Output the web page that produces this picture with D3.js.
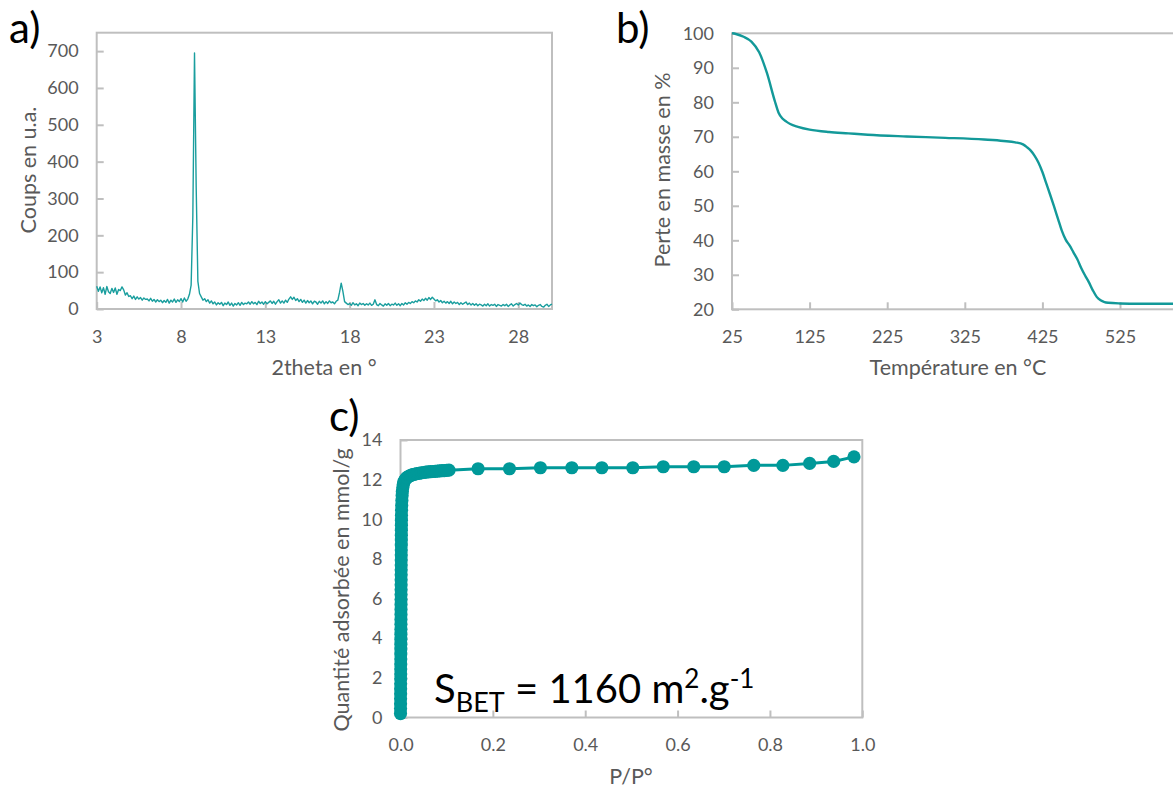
<!DOCTYPE html>
<html>
<head>
<meta charset="utf-8">
<script src="https://cdn.jsdelivr.net/npm/d3@7"></script>
<style>
  html, body { margin: 0; padding: 0; background: #fff; }
  svg { display: block; }
  text { font-family: Lato, "Open Sans", sans-serif; }
</style>
</head>
<body>
<svg id="chart" width="1173" height="792"></svg>
<script>
// ---------- DATA ----------
// a) XRD pattern: 2theta from 3 to 30 sampled every 0.1 degree
const xrdStart = 3;
const xrdStep = 0.1;
const xrdCounts = [
  62, 48, 60, 44, 58, 40, 61, 47, 42, 56,
  45, 57, 40, 53, 50, 60, 52, 38, 44, 34,
  36, 28, 35, 26, 33, 27, 31, 24, 30, 26,
  27, 22, 29, 21, 26, 19, 25, 20, 24, 17,
  23, 18, 26, 16, 24, 19, 27, 18, 25, 20,
  28, 19, 30, 21, 27, 40, 65, 250, 695, 330,
  75, 42, 33, 24, 28, 20, 25, 16, 22, 14,
  19, 11, 17, 13, 18, 9, 16, 12, 19, 10,
  16, 8, 15, 11, 17, 10, 18, 12, 16, 14,
  19, 13, 20, 14, 18, 12, 21, 15, 19, 13,
  20, 14, 18, 22, 15, 21, 13, 20, 25, 16,
  22, 16, 24, 18, 27, 33, 26, 32, 23, 28,
  20, 26, 18, 24, 16, 23, 17, 22, 14, 21,
  19, 13, 21, 16, 22, 14, 20, 15, 22, 17,
  19, 14, 21, 24, 45, 70, 48, 20, 16, 12,
  15, 10, 17, 11, 14, 9, 16, 12, 15, 10,
  14, 11, 16, 10, 13, 25, 12, 9, 15, 11,
  8, 14, 10, 15, 9, 13, 11, 16, 10, 14,
  9, 15, 11, 17, 13, 18, 15, 20, 17, 22,
  19, 25, 21, 27, 23, 29, 24, 31, 26, 32,
  27, 22, 25, 19, 23, 17, 21, 16, 20, 15,
  21, 14, 19, 15, 18, 12, 17, 13, 16, 19,
  12, 16, 11, 15, 10, 14, 9, 13, 11, 8,
  13, 9, 14, 8, 12, 10, 13, 7, 12, 10,
  8, 12, 9, 13, 7, 11, 14, 8, 12, 15,
  11, 16, 12, 10, 13, 8, 11, 7, 12, 9,
  11, 6, 10, 12, 7, 5, 10, 13, 7, 11,
  13
];
const xrdTicksX = [3, 8, 13, 18, 23, 28];
const xrdTicksY = [0, 100, 200, 300, 400, 500, 600, 700];

// b) TGA
const tgaTemp = [25, 30, 40, 50, 60, 70, 80, 85, 90, 95, 100, 110, 125, 150, 175, 200, 250, 300, 350, 375,
  390, 400, 405, 410, 415, 420, 425, 430, 435, 440, 445, 450, 455, 460, 465, 470, 475, 480, 485, 490,
  495, 500, 505, 510, 525, 550, 575, 600, 625];
const tgaMass = [100, 99.8, 99, 97.6, 94.5, 88.5, 80.5, 77, 75.3, 74.4, 73.7, 72.9, 72.1, 71.4, 71, 70.6, 70.1, 69.7, 69.2, 68.8,
  68.4, 67.8, 67, 66, 64.5, 62.5, 59.8, 56.5, 53.2, 49.8, 46.3, 42.8, 40.2, 38.5, 36.5, 34.5, 32, 29.8, 27.8, 25.5,
  23.6, 22.6, 22.1, 21.9, 21.7, 21.6, 21.6, 21.6, 21.6];
const tgaTicksX = [25, 125, 225, 325, 425, 525];
const tgaTicksY = [20, 30, 40, 50, 60, 70, 80, 90, 100];

// c) N2 isotherm
const isoP = [
  0.00005, 0.0001, 0.00015, 0.0002, 0.00025, 0.0003, 0.00035, 0.0004, 0.00045, 0.0005,
  0.00055, 0.0006, 0.00065, 0.0007, 0.00075, 0.0008, 0.00085, 0.0009, 0.00095, 0.001,
  0.00105, 0.0011, 0.00115, 0.0012, 0.00125, 0.0013, 0.00135, 0.0014, 0.00145, 0.0015,
  0.00155, 0.0016, 0.00165, 0.0017, 0.00175, 0.0018, 0.00185, 0.0019, 0.00195, 0.002,
  0.0021, 0.0023, 0.0026, 0.003, 0.0035, 0.004, 0.005, 0.006, 0.007, 0.008,
  0.010, 0.012, 0.014, 0.017, 0.020, 0.023, 0.026, 0.030, 0.035, 0.040,
  0.045, 0.050, 0.055, 0.060, 0.065, 0.070, 0.075, 0.080, 0.085, 0.090,
  0.095, 0.100, 0.105,
  0.168, 0.236, 0.303, 0.371, 0.436, 0.503, 0.569, 0.635, 0.701, 0.765, 0.828, 0.886, 0.938, 0.982];
const isoQ = [
  0.2, 0.45, 0.7, 0.95, 1.2, 1.45, 1.7, 1.95, 2.2, 2.45,
  2.7, 2.95, 3.2, 3.45, 3.7, 3.95, 4.2, 4.45, 4.7, 4.95,
  5.2, 5.45, 5.7, 5.95, 6.2, 6.45, 6.7, 6.95, 7.2, 7.45,
  7.7, 7.95, 8.2, 8.45, 8.7, 8.95, 9.2, 9.45, 9.7, 9.95,
  10.2, 10.45, 10.7, 10.95, 11.2, 11.4, 11.6, 11.75, 11.85, 11.92,
  12.0, 12.06, 12.11, 12.15, 12.19, 12.22, 12.25, 12.27, 12.3, 12.32,
  12.34, 12.36, 12.38, 12.39, 12.4, 12.41, 12.42, 12.43, 12.44, 12.45,
  12.46, 12.47, 12.48,
  12.55, 12.55, 12.6, 12.6, 12.6, 12.6, 12.65, 12.65, 12.65, 12.72, 12.72, 12.82, 12.92, 13.15];
const isoTicksX = [0, 0.2, 0.4, 0.6, 0.8, 1.0];
const isoTicksY = [0, 2, 4, 6, 8, 10, 12, 14];

// ---------- STYLE ----------
const GRID = "#bfbfbf";
const LABEL = "#595959";
const TICKFONT = 18;
const TITLEFONT = 21.5;

const svg = d3.select("#chart");

function panel(cfg) {
  const g = svg.append("g");
  const x = d3.scaleLinear().domain(cfg.xDomain).range([cfg.left, cfg.right]);
  const y = d3.scaleLinear().domain(cfg.yDomain).range([cfg.bottom, cfg.top]);

  g.append("rect")
    .attr("x", cfg.left).attr("y", cfg.top)
    .attr("width", cfg.right - cfg.left).attr("height", cfg.bottom - cfg.top)
    .attr("fill", "none").attr("stroke", GRID).attr("stroke-width", 2);

  const xAxis = d3.axisBottom(x).tickValues(cfg.xTicks).tickFormat(cfg.xFmt)
    .tickSizeInner(-7).tickSizeOuter(0).tickPadding(21);
  const gx = g.append("g").attr("transform", `translate(0,${cfg.bottom})`).call(xAxis);
  gx.select(".domain").remove();
  gx.selectAll(".tick line").attr("stroke", GRID).attr("stroke-width", 2);
  gx.selectAll(".tick text").attr("fill", LABEL).style("font-size", TICKFONT + "px");

  const yAxis = d3.axisLeft(y).tickValues(cfg.yTicks).tickFormat(cfg.yFmt)
    .tickSizeInner(-7).tickSizeOuter(0).tickPadding(18);
  const gy = g.append("g").attr("transform", `translate(${cfg.left},0)`).call(yAxis);
  gy.select(".domain").remove();
  gy.selectAll(".tick line").attr("stroke", GRID).attr("stroke-width", 2);
  gy.selectAll(".tick text").attr("fill", LABEL).style("font-size", TICKFONT + "px");

  g.append("text").attr("x", cfg.xTitleX).attr("y", cfg.xTitleY)
    .attr("text-anchor", "middle").attr("dominant-baseline", "central")
    .attr("fill", LABEL).style("font-size", TITLEFONT + "px").text(cfg.xTitle);
  g.append("text")
    .attr("transform", `translate(${cfg.yTitleX},${cfg.yTitleY}) rotate(-90)`)
    .attr("text-anchor", "middle").attr("dominant-baseline", "central")
    .attr("fill", LABEL).style("font-size", TITLEFONT + "px").text(cfg.yTitle);

  g.append("text").attr("x", cfg.letterX).attr("y", cfg.letterY)
    .attr("fill", "#000").style("font-size", "42px").text(cfg.letter);

  return { g, x, y };
}

// ---------- PANEL A ----------
const A = panel({
  left: 96.7, right: 552, top: 32.7, bottom: 309,
  xDomain: [3, 30], yDomain: [0, 750],
  xTicks: xrdTicksX, yTicks: xrdTicksY,
  xFmt: d3.format("d"), yFmt: d3.format("d"),
  xTitle: "2theta en °", xTitleX: 324, xTitleY: 367,
  yTitle: "Coups en u.a.", yTitleX: 28, yTitleY: 170,
  letter: "a)", letterX: 9, letterY: 43
});
const xrdData = xrdCounts.map((c, i) => [xrdStart + i * xrdStep, c]);
A.g.append("path").datum(xrdData)
  .attr("fill", "none").attr("stroke", "#1a9e9e").attr("stroke-width", 1.4)
  .attr("stroke-linejoin", "round")
  .attr("d", d3.line().x(d => A.x(d[0])).y(d => A.y(d[1])));

// ---------- PANEL B ----------
const B = panel({
  left: 732, right: 732 + 600 * 0.776, top: 33.3, bottom: 309.3,
  xDomain: [25, 625], yDomain: [20, 100],
  xTicks: tgaTicksX, yTicks: tgaTicksY,
  xFmt: d3.format("d"), yFmt: d3.format("d"),
  xTitle: "Température en °C", xTitleX: 958, xTitleY: 367,
  yTitle: "Perte en masse en %", yTitleX: 662, yTitleY: 170,
  letter: "b)", letterX: 616, letterY: 43
});
const tgaData = tgaTemp.map((t, i) => [t, tgaMass[i]]);
B.g.append("path").datum(tgaData)
  .attr("fill", "none").attr("stroke", "#139999").attr("stroke-width", 2.4)
  .attr("d", d3.line().curve(d3.curveMonotoneX).x(d => B.x(d[0])).y(d => B.y(d[1])));

// ---------- PANEL C ----------
const C = panel({
  left: 400.5, right: 862.3, top: 440, bottom: 717.5,
  xDomain: [0, 1], yDomain: [0, 14],
  xTicks: isoTicksX, yTicks: isoTicksY,
  xFmt: d3.format(".1f"), yFmt: d3.format("d"),
  xTitle: "P/P°", xTitleX: 631, xTitleY: 776,
  yTitle: "Quantité adsorbée en mmol/g", yTitleX: 341, yTitleY: 590,
  letter: "c)", letterX: 329, letterY: 431
});
const isoData = isoP.map((p, i) => [p, isoQ[i]]);
C.g.append("path").datum(isoData)
  .attr("fill", "none").attr("stroke", "#009999").attr("stroke-width", 3)
  .attr("d", d3.line().x(d => C.x(d[0])).y(d => C.y(d[1])));
C.g.selectAll("circle").data(isoData).enter().append("circle")
  .attr("cx", d => C.x(d[0])).attr("cy", d => C.y(d[1]))
  .attr("r", 6.6).attr("fill", "#009999");

// S_BET annotation
const sbet = C.g.append("text").attr("x", 434).attr("y", 703)
  .attr("fill", "#000").style("font-size", "40px");
sbet.append("tspan").text("S");
sbet.append("tspan").attr("dy", 9).style("font-size", "27px").text("BET");
sbet.append("tspan").attr("dy", -9).text(" = 1160 m");
sbet.append("tspan").attr("dy", -15).style("font-size", "26px").text("2");
sbet.append("tspan").attr("dy", 15).text(".g");
sbet.append("tspan").attr("dy", -15).style("font-size", "26px").text("-1");
</script>
</body>
</html>
